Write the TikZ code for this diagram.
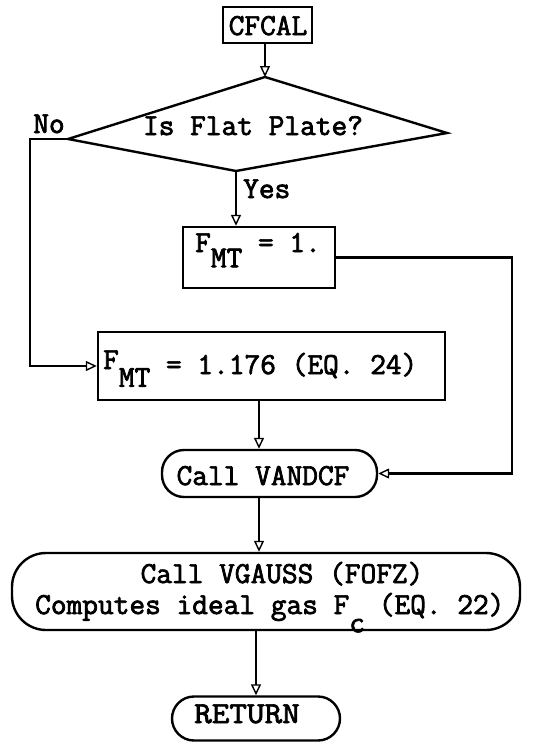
\documentclass[tikz,border=0pt]{standalone}
\usepackage{fontspec}
\setmainfont{Latin Modern Mono}[FakeBold=2.4]
\usetikzlibrary{arrows.meta}
% typewriter-style lowered subscript
\newcommand\lowsub[2][0.5em]{\raisebox{-#1}{#2}}
\tikzset{
  shapeline/.style={draw, line width=2.4pt, inner sep=0pt},
  procbox/.style={shapeline, rectangle},
  termbox/.style={shapeline, rectangle, rounded corners=#1},
  txt/.style={inner sep=0pt, anchor=base, font=\fontsize{30.5}{25}\selectfont},
  flow/.style={line width=2.2pt,
    -{Triangle[open, length=11pt, width=10pt, line width=1.4pt]}},
}
\begin{document}
\begin{tikzpicture}[x=1pt, y=-1pt]
\useasboundingbox (0,0) rectangle (535,742);

% entry
\node[procbox, minimum width=89pt, minimum height=36pt] (cfcal) at (267.5,25) {};
\node[txt] (cfcalT) at (268,35) {CFCAL};

% decision
\coordinate (dT) at (265,77);
\coordinate (dL) at (68,139);
\coordinate (dR) at (447,133);
\coordinate (dB) at (236,171);
\draw[line width=2.4pt, line join=miter] (dT) -- (dR) -- (dB) -- (dL) -- cycle;
\node[txt] (askT) at (253,135) {Is Flat Plate?};
\node[txt] (noT) at (49,133) {No};
\node[txt, anchor=base west] (yesT) at (243,198) {Yes};

% assignments
\node[procbox, minimum width=152pt, minimum height=61pt] (f1) at (259,257.5) {};
\node[txt, anchor=base west] (f1T) at (195,252) {F\lowsub{MT} = 1.};
\node[procbox, minimum width=347pt, minimum height=68pt] (f2) at (271.5,366) {};
\node[txt, anchor=base west] (f2T) at (103,374)
  {\raisebox{5pt}{F}\lowsub[0.42em]{MT} = 1.176 (EQ. 24)};

% calls
\node[termbox=22pt, minimum width=215pt, minimum height=47pt] (vandcf) at (269.5,473.5) {};
\node[txt] (vandcfT) at (263,485) {Call VANDCF};
\node[termbox=34pt, minimum width=508pt, minimum height=77pt] (vgauss) at (266,591.5) {};
\node[txt] (vgaussA) at (282,583) {Call VGAUSS (FOFZ)};
\node[txt, anchor=base west] (vgaussB) at (35,614)
  {Computes ideal gas F\makebox[0.45em][l]{\lowsub[0.6em]{c}} (EQ. 22)};

% exit
\node[termbox=22pt, minimum width=168pt, minimum height=44pt] (ret) at (256,718.5) {};
\node[txt] (retT) at (247,723) {\scalebox{1.12}[1]{RETURN}};

% connectors
\coordinate (noturn) at (30,139);
\coordinate (rline) at (512,0);
\coordinate (ax) at (259,0);
\draw[flow] (cfcal.south -| dT) -- (dT);
\draw[flow] (dB) -- (dB |- f1.north);
\draw[flow] (dL) -- (noturn) |- (f2.west);
\draw[flow] (f1.east) -- (f1.east -| rline) |- (vandcf.east);
\draw[flow] (f2.south -| ax) -- (vandcf.north -| ax);
\draw[flow] (vandcf.south -| ax) -- (vgauss.north -| ax);
\draw[flow] (vgauss.south -| ret) -- (ret.north);
\end{tikzpicture}
\end{document}
